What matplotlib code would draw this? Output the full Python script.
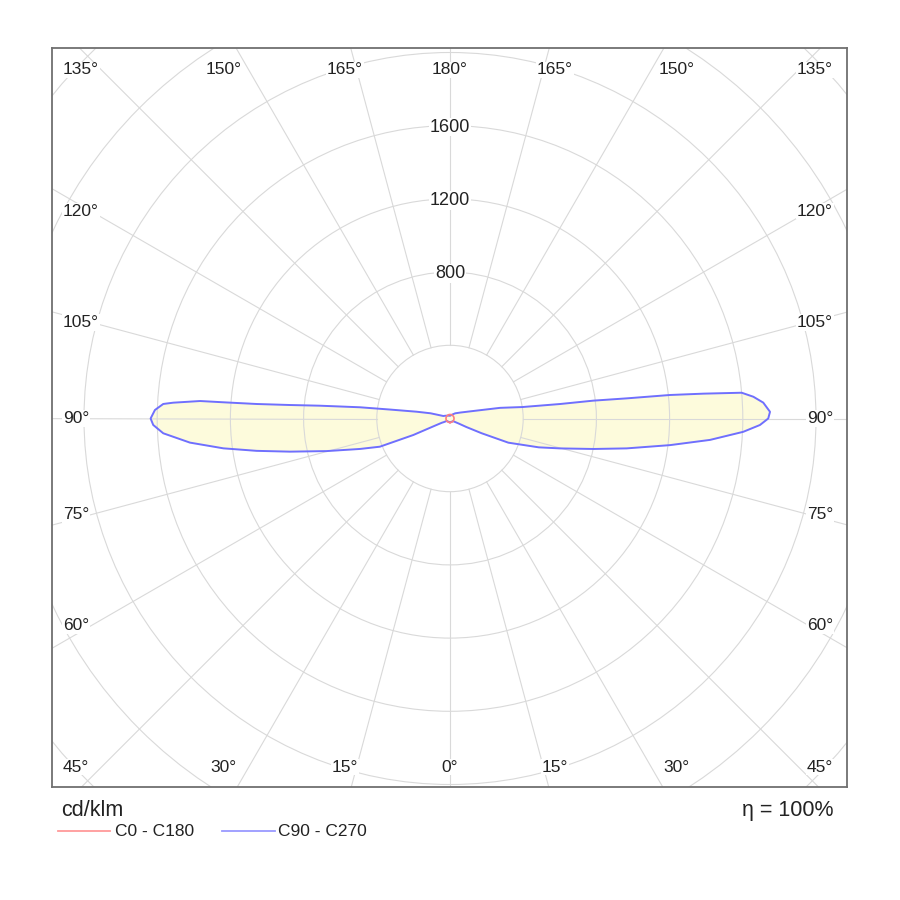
import numpy as np
import matplotlib
matplotlib.use("Agg")
import matplotlib.pyplot as plt
from matplotlib.patches import Circle
from matplotlib.lines import Line2D

plt.rcParams['font.family'] = ['Liberation Sans', 'DejaVu Sans']

# Photometric data, cd/klm, gamma measured from nadir (0 = straight down)
gamma_c90 = [0, 15, 30, 45, 50, 55, 60, 62.5, 65, 67.5, 72, 74.8, 78, 80.4, 83.1, 85.3, 87.4,
             88.8, 90, 91.2, 92.9, 94.1, 95.05, 95.6, 96.1, 96.5, 97.1, 97.5, 99, 102, 108,
             120, 135, 150, 165, 180]
c90 = [20, 20, 20, 21, 24, 32, 55, 100, 190, 345, 510, 623, 801, 979, 1211, 1426, 1604,
       1694, 1739, 1749, 1714, 1662, 1600, 1391, 1209, 972, 789, 606, 400, 280, 132,
       65, 40, 25, 18, 15]

gamma_c270 = [0, 15, 30, 45, 50, 55, 60, 62.5, 64.5, 65.8, 68.1, 71.3, 75.2, 78.3, 80.5, 82.5,
              84.7, 87.05, 88.75, 90, 91.65, 92.9, 93.27, 94, 94.09, 94.29, 94.82, 95.62, 97.1,
              98.5, 101.5, 105, 110.5, 120, 135, 150, 165, 180]
c270 = [20, 20, 20, 20, 22, 26, 40, 50, 90, 220, 413, 519, 697, 893, 1071, 1249,
        1427, 1569, 1622, 1636, 1613, 1569, 1515, 1369, 1242, 1059, 877, 714, 496,
        330, 186, 110, 39, 30, 22, 18, 16, 15]

gamma_c0 = [0, 15, 30, 45, 60, 75, 90, 105, 120, 135, 150, 165, 180]
c0 = [22, 22, 22, 22, 22, 22, 22, 22, 22, 22, 22, 22, 22]
c180 = [22, 22, 22, 22, 22, 22, 22, 22, 22, 22, 22, 22, 22]

ring_values = [400, 800, 1200, 1600, 2000, 2400, 2800, 3200]
ring_labels = [800, 1200, 1600]
spoke_angles = list(range(0, 360, 15))
label_angles = list(range(0, 181, 15))

# layout (pixels of a 900x900 figure)
W = H = 900
left, right, top, bottom = 52, 847, 48, 787
cx, cy = 450, 418.5
SCALE = 0.183  # px per cd/klm

fig = plt.figure(figsize=(9, 9), dpi=100)
ax = fig.add_axes([left / W, 1 - bottom / H, (right - left) / W, (bottom - top) / H])
ax.set_xlim((left - cx) / SCALE, (right - cx) / SCALE)
ax.set_ylim((cy - bottom) / SCALE, (cy - top) / SCALE)
ax.set_xticks([])
ax.set_yticks([])
for s in ax.spines.values():
    s.set_color('#707070')
    s.set_linewidth(1.3)

grid_col = '#d9d9d9'
txt_col = '#222222'


def to_xy(g, r, side):
    g = np.radians(np.asarray(g, dtype=float))
    r = np.asarray(r, dtype=float)
    return side * r * np.sin(g), -r * np.cos(g)


# rings and spokes
for rv in ring_values:
    ax.add_patch(Circle((0, 0), rv, fill=False, ec=grid_col, lw=0.8, zorder=2))
for a in spoke_angles:
    x, y = to_xy([a, a], [ring_values[0], 5000], 1)
    ax.plot(x, y, color=grid_col, lw=0.8, zorder=2)

# C90 - C270 (right: C90, left: C270)
xr, yr = to_xy(gamma_c90, c90, 1)
xl, yl = to_xy(gamma_c270[::-1], c270[::-1], -1)
xs = np.concatenate([xr, xl, xr[:1]])
ys = np.concatenate([yr, yl, yr[:1]])
ax.fill(xs, ys, color='#fdfbdc', zorder=1)
ax.plot(xs, ys, color='#6f6fff', lw=1.4, zorder=4, solid_joinstyle='round')

# C0 - C180
xr, yr = to_xy(gamma_c0, c0, 1)
xl, yl = to_xy(gamma_c0[::-1], c180[::-1], -1)
ax.plot(np.concatenate([xr, xl]), np.concatenate([yr, yl]), color='#ff7f7f', lw=1.2, zorder=5)

# radial value labels
for v in ring_labels:
    ax.text(0, v - 8, str(v), ha='center', va='center', fontsize=13, color=txt_col, zorder=6,
            bbox=dict(facecolor='white', edgecolor='none', pad=0.5))

# angle labels around the frame
lab_kw = dict(fontsize=12.5, color=txt_col, zorder=6,
              bbox=dict(facecolor='white', edgecolor='none', pad=0.5))
row_top, row_bot = 70, 767
col_left, col_right = 63, 833
for a in label_angles:
    for side in (-1, 1):
        if a in (0, 180) and side == -1:
            continue
        txt = f"{a}°"
        if a <= 30 or a >= 150:
            # top / bottom rows
            ang = np.radians(a if a <= 30 else 180 - a)
            px_x = cx + side * 392 * np.tan(ang)
            px_y = row_bot if a <= 30 else row_top
            ha = 'center'
        else:
            # side columns
            ang = np.radians(90 - a)
            px_x = col_left if side < 0 else col_right
            if a == 45:
                px_y = row_bot
            elif a == 135:
                px_y = row_top
            else:
                px_y = cy + 359 * np.tan(ang)
            ha = 'left' if side < 0 else 'right'
        ax.text((px_x - cx) / SCALE, (cy - px_y) / SCALE, txt, ha=ha, va='center', **lab_kw)

# captions below the frame
fig.text(61 / W, 1 - 816 / H, 'cd/klm', fontsize=15.5, color=txt_col, va='baseline', ha='left')
fig.text(833 / W, 1 - 816 / H, 'η = 100%', fontsize=15.5, color=txt_col, va='baseline', ha='right')

# legend
leg_y = 1 - 831 / H
fig.add_artist(Line2D([58 / W, 110 / W], [leg_y, leg_y], color='#ff9a9a', lw=1.3))
fig.text(115 / W, leg_y, 'C0 - C180', fontsize=12.5, color=txt_col, va='center', ha='left')
fig.add_artist(Line2D([222 / W, 275 / W], [leg_y, leg_y], color='#9a9aff', lw=1.3))
fig.text(278 / W, leg_y, 'C90 - C270', fontsize=12.5, color=txt_col, va='center', ha='left')

fig.savefig('out.png', dpi=100, facecolor='white')
